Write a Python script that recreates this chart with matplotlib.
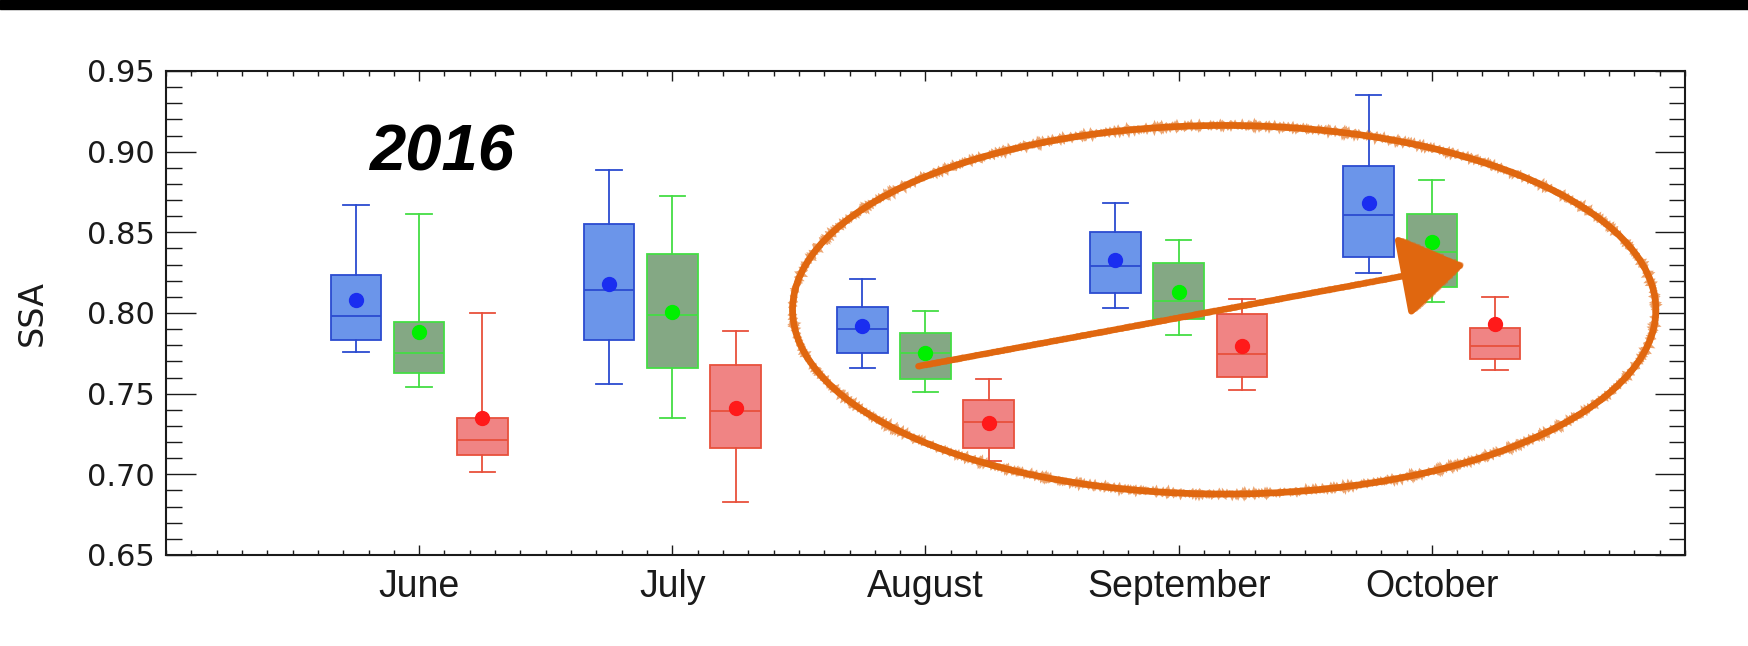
import matplotlib
matplotlib.use("Agg")
import matplotlib.pyplot as plt
from matplotlib.patches import Ellipse, Rectangle
from matplotlib.ticker import MultipleLocator, FormatStrFormatter
import numpy as np

plt.rcParams['font.family'] = ['Liberation Sans', 'DejaVu Sans']

# months on the x axis (6 = June ... 10 = October)
months = [6, 7, 8, 9, 10]
month_names = ['June', 'July', 'August', 'September', 'October']

# SSA box statistics per month, three series (blue, green, red)
blue_lo = [0.776, 0.756, 0.766, 0.803, 0.825]
blue_q1 = [0.783, 0.783, 0.775, 0.8125, 0.835]
blue_med = [0.798, 0.814, 0.790, 0.829, 0.861]
blue_q3 = [0.8235, 0.855, 0.804, 0.8505, 0.891]
blue_hi = [0.867, 0.8885, 0.821, 0.868, 0.935]
blue_mean = [0.808, 0.818, 0.792, 0.833, 0.868]

green_lo = [0.754, 0.735, 0.751, 0.7865, 0.807]
green_q1 = [0.763, 0.766, 0.759, 0.7965, 0.816]
green_med = [0.775, 0.799, 0.775, 0.8075, 0.838]
green_q3 = [0.7945, 0.8365, 0.7875, 0.831, 0.8615]
green_hi = [0.8615, 0.8725, 0.801, 0.845, 0.8825]
green_mean = [0.7885, 0.8005, 0.775, 0.813, 0.844]

red_lo = [0.7015, 0.683, 0.708, 0.7525, 0.7645]
red_q1 = [0.7117, 0.7163, 0.7163, 0.7602, 0.7712]
red_med = [0.7214, 0.7393, 0.7327, 0.7747, 0.7793]
red_q3 = [0.7347, 0.7679, 0.7462, 0.7992, 0.7908]
red_hi = [0.7997, 0.7888, 0.7589, 0.8089, 0.8097]
red_mean = [0.7347, 0.7411, 0.7321, 0.7798, 0.7929]

series = [
    # (lo, q1, med, q3, hi, mean, offset, fill, edge, dot)
    (blue_lo, blue_q1, blue_med, blue_q3, blue_hi, blue_mean, -0.25,
     '#6b95ea', '#2b4bd0', '#1a2ef0'),
    (green_lo, green_q1, green_med, green_q3, green_hi, green_mean, 0.0,
     '#84a884', '#44dd44', '#00f000'),
    (red_lo, red_q1, red_med, red_q3, red_hi, red_mean, 0.25,
     '#f08484', '#e8503c', '#ff1a1a'),
]

fig = plt.figure(figsize=(17.49, 6.46), dpi=100)
ax = fig.add_axes([0.0949, 0.1409, 0.8685, 0.7492])

for lo, q1, med, q3, hi, mean, off, fill, edge, dot in series:
    stats = []
    for i in range(len(months)):
        stats.append(dict(whislo=lo[i], q1=q1[i], med=med[i], q3=q3[i],
                          whishi=hi[i], mean=mean[i], fliers=[]))
    pos = [m + off for m in months]
    ax.bxp(stats, positions=pos, widths=0.2, capwidths=0.1,
           showmeans=True, patch_artist=True, manage_ticks=False,
           boxprops=dict(facecolor=fill, edgecolor=edge, linewidth=1.3),
           medianprops=dict(color=edge, linewidth=1.3),
           whiskerprops=dict(color=edge, linewidth=1.3),
           capprops=dict(color=edge, linewidth=1.3),
           meanprops=dict(marker='o', markerfacecolor=dot,
                          markeredgecolor=dot, markersize=10))

ax.set_xlim(5, 11)
ax.set_ylim(0.65, 0.95)
ax.set_xticks(months)
ax.set_xticklabels(month_names)
ax.xaxis.set_minor_locator(MultipleLocator(0.1))
ax.yaxis.set_major_locator(MultipleLocator(0.05))
ax.yaxis.set_minor_locator(MultipleLocator(0.01))
ax.yaxis.set_major_formatter(FormatStrFormatter('%.2f'))

ax.tick_params(axis='x', which='both', direction='in', top=True,
               width=1.0, colors='#1a1a1a', labelsize=27, pad=10)
ax.tick_params(axis='x', which='major', length=7.5)
ax.tick_params(axis='x', which='minor', length=3.8)
ax.tick_params(axis='y', which='both', direction='in', right=True,
               width=1.0, colors='#1a1a1a', labelsize=22, pad=8)
ax.tick_params(axis='y', which='major', length=21.5)
ax.tick_params(axis='y', which='minor', length=11.5)
for lab in ax.get_yticklabels():
    lab.set_family('DejaVu Sans')
for s in ax.spines.values():
    s.set_linewidth(1.5)
    s.set_color('#1a1a1a')

ax.set_ylabel('SSA', fontsize=24, color='#1a1a1a', family='DejaVu Sans')
ax.yaxis.label.set_va('center')
ax.yaxis.set_label_coords(-0.088, 0.5)

ax.text(6.089, 0.899, '2016', fontsize=47, fontweight='bold',
        fontstyle='italic', ha='center', va='center', color='black')

# hand drawn highlight: ellipse round Aug-Oct and a trend arrow
orange = '#e0670f'
ell_center, ell_w, ell_h = (9.18, 0.802), 3.41, 0.2285
ax.add_patch(Ellipse(ell_center, ell_w, ell_h, fill=False,
                     edgecolor=orange, linewidth=4.8, zorder=5))
# frayed brush edge on top of the smooth stroke
rough = Ellipse(ell_center, ell_w, ell_h, fill=False, edgecolor=orange,
                linewidth=3.4, alpha=0.6, zorder=5)
rough.set_sketch_params(scale=1.4, length=3, randomness=2)
ax.add_patch(rough)

start, tip = (7.972, 0.767), (10.131, 0.830)
ax.annotate('', xy=tip, xytext=start,
            arrowprops=dict(arrowstyle='-|>,head_length=0.95,head_width=0.62',
                            mutation_scale=42, color=orange, lw=4.6,
                            shrinkA=0, shrinkB=0), zorder=6)
arr = ax.annotate('', xy=tip, xytext=start,
                  arrowprops=dict(arrowstyle='-|>,head_length=0.95,head_width=0.62',
                                  mutation_scale=42, color=orange, lw=3.2,
                                  alpha=0.6, shrinkA=0, shrinkB=0), zorder=6)
arr.arrow_patch.set_sketch_params(scale=1.4, length=3, randomness=2)

# black strip along the top edge
fig.add_artist(Rectangle((0, 1 - 9 / 646), 1, 9 / 646,
                         transform=fig.transFigure, color='black'))

fig.savefig('out.png', dpi=100)
